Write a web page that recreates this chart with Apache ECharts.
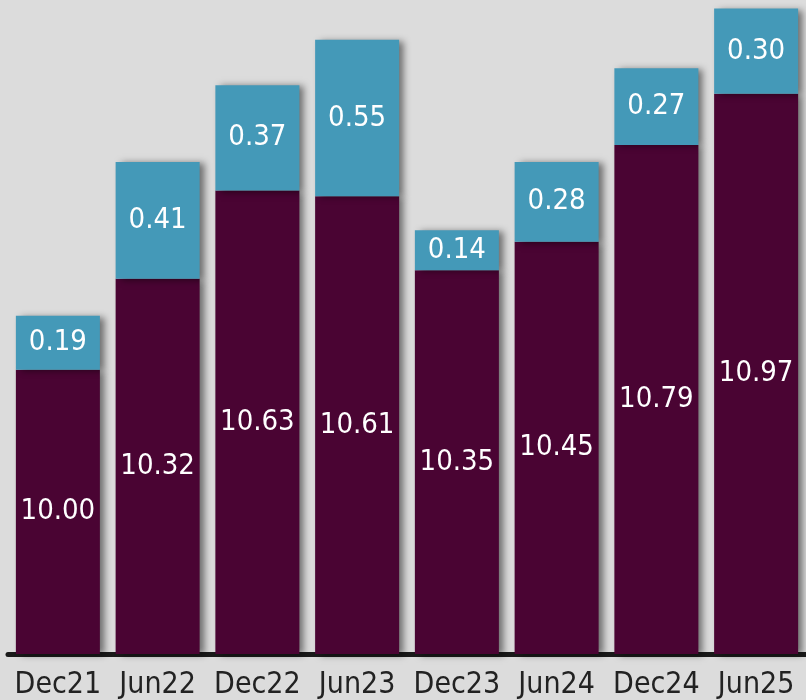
<!DOCTYPE html>
<html><head><meta charset="utf-8">
<script src="https://cdn.jsdelivr.net/npm/echarts@6/dist/echarts.min.js"></script>
<style>html,body{margin:0;padding:0;background:#dcdcdc;}#c{width:806px;height:700px;}</style>
</head><body><div id="c"></div>
<script>
const categories = ['Dec21','Jun22','Dec22','Jun23','Dec23','Jun24','Dec24','Jun25'];
const baseValues = [10.00,10.32,10.63,10.61,10.35,10.45,10.79,10.97];
const topValues = [0.19,0.41,0.37,0.55,0.14,0.28,0.27,0.30];
const chart = echarts.init(document.getElementById('c'));
const FONT = '"DejaVu Sans Condensed", sans-serif';
const lbl = {show:true, position:'inside', color:'#ffffff', fontSize:29, fontFamily:FONT};
const shadow = {shadowColor:'rgba(0,0,0,0.5)', shadowBlur:7, shadowOffsetX:5, shadowOffsetY:1};
chart.setOption({
  backgroundColor:'#dcdcdc',
  animation:false,
  grid:{left:8,right:0,top:0,bottom:46, outerBoundsMode:'none', containLabel:false},
  xAxis:{type:'category', data:categories,
    axisLine:{lineStyle:{color:'#1a1a1a', width:5}},
    axisTick:{show:false},
    axisLabel:{color:'#222222', fontSize:30, fontFamily:FONT, margin:16, interval:0}},
  yAxis:{type:'value', min:9, max:11.3, show:false, splitLine:{show:false}},
  series:[
    {type:'bar', stack:'a', data:baseValues, barWidth:84,
     itemStyle:Object.assign({color:'#4a0433'}, shadow),
     label:Object.assign({}, lbl, {formatter:p=>p.value.toFixed(2)})},
    {type:'bar', stack:'a', data:topValues, barWidth:84,
     itemStyle:Object.assign({color:'#4499b8'}, shadow),
     label:Object.assign({}, lbl, {formatter:p=>p.value.toFixed(2)})}
  ]
});
</script></body></html>
